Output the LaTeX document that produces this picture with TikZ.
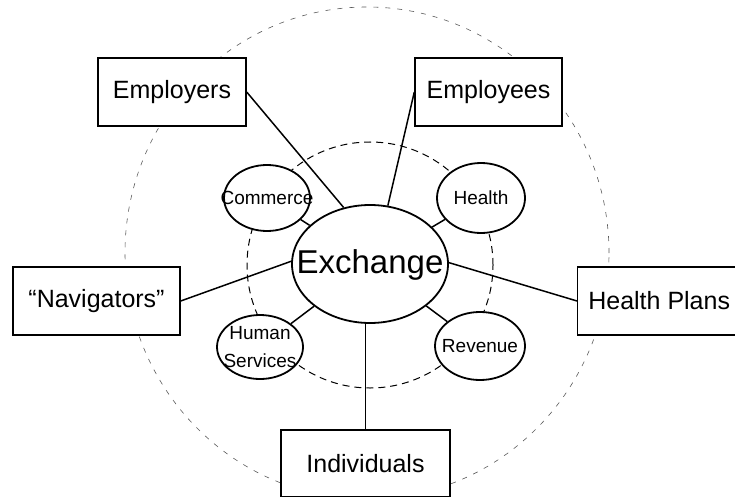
\documentclass[tikz,border=0pt]{standalone}
\usepackage{fontspec}
\setmainfont{Liberation Sans}
\usetikzlibrary{shapes.geometric}
\begin{document}
\begin{tikzpicture}[x=1pt,y=-1pt,
  party/.style={draw, fill=white, line width=1.4pt, inner sep=0pt,
    minimum height=68pt, font=\fontsize{25}{30}\selectfont},
  agency/.style={draw, fill=white, ellipse, line width=1.8pt, inner sep=0pt},
  agencytext/.style={font=\fontsize{19}{28}\selectfont, align=center, inner sep=0pt},
  hubtext/.style={font=\fontsize{33}{38}\selectfont, inner sep=0pt},
  link/.style={line width=1.5pt},
  ring/.style={dash pattern=on 7pt off 5pt, line width=1pt},
  orbit/.style={dash pattern=on 5pt off 7pt, line width=0.6pt, black!65}]
\clip (0,0) rectangle (735,497);

% dashed rings: market boundary and state agencies
\draw[orbit] (367,253) ellipse [x radius=242pt, y radius=246pt];
\draw[ring] (370,265) circle [radius=123pt];

% central exchange
\node[agency, minimum width=156pt, minimum height=118pt,
      label={[hubtext, yshift=-1pt]center:Exchange}] (exchange) at (370,264) {};

% state agencies
\node[agency, minimum width=86pt, minimum height=66pt,
      label={[agencytext]center:Commerce}] (commerce) at (267,198) {};
\node[agency, minimum width=88pt, minimum height=70pt,
      label={[agencytext]center:Health}] (health) at (481,198) {};
\node[agency, minimum width=86pt, minimum height=64pt,
      label={[agencytext]center:Human\\Services}] (human) at (260,347) {};
\node[agency, minimum width=90pt, minimum height=68pt,
      label={[agencytext]center:Revenue}] (revenue) at (480,346) {};

% market participants
\node[party, minimum width=148pt] (employers) at (172,92) {Employers};
\node[party, minimum width=147pt] (employees) at (488.5,92) {Employees};
\node[party, minimum width=167pt] (navigators) at (96.5,301) {“Navigators”};
\node[party, minimum width=163pt, anchor=west] (plans) at (577,301) {Health Plans};
\node[party, minimum width=169pt, minimum height=67pt] (individuals) at (365.5,463.5) {Individuals};

% connectors
\draw[link] (commerce) -- (exchange);
\draw[link] (health) -- (exchange);
\draw[link] (human) -- (exchange);
\draw[link] (revenue) -- (exchange);
\draw[link] (employers.east) -- (exchange.115);
\draw[link] (employees.west) -- (exchange.73);
\draw[link] (navigators.east) -- (exchange.178);
\draw[link] (plans.west) -- (exchange.1);
\draw[link] (individuals.north) -- (individuals.north |- exchange.south);
\end{tikzpicture}
\end{document}
